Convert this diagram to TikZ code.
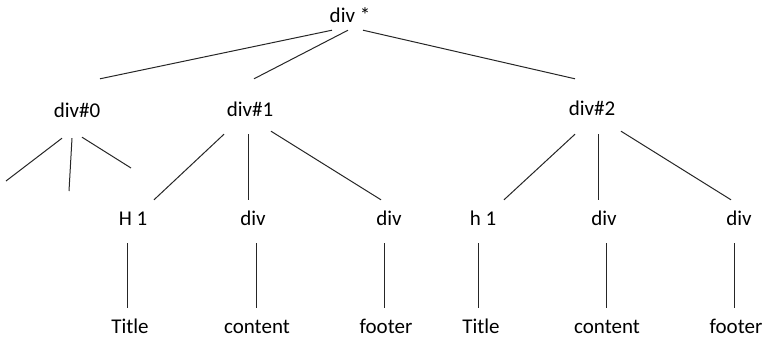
\documentclass[tikz,border=0pt]{standalone}
\usepackage{fontspec}
\setmainfont{Carlito}
\usepackage{tikz}

\begin{document}
\begin{tikzpicture}[
    x=1pt, y=-1pt,
    tag/.style={inner sep=0pt, text height=15pt, text depth=4pt, anchor=base, font=\fontsize{21}{25}\selectfont},
    edge/.style={line width=1pt, black!85}
]
\useasboundingbox (0,0) rectangle (765,340);

\node[tag] (root) at (350,22) {div *};

\node[tag] (div0) at (77,117) {div\#0};
\node[tag] (div1) at (250,116) {div\#1};
\node[tag] (div2) at (592,115) {div\#2};

\node[tag] (h1a) at (133,225) {H 1};
\node[tag] (diva) at (253,225) {div};
\node[tag] (divb) at (389,225) {div};
\node[tag] (h1b) at (483,225) {h 1};
\node[tag] (divc) at (604,225) {div};
\node[tag] (divd) at (739,225) {div};

\node[tag] (titlea) at (130,333) {Title};
\node[tag] (contenta) at (257,333) {content};
\node[tag] (footera) at (386,333) {footer};
\node[tag] (titleb) at (481,333) {Title};
\node[tag] (contentb) at (607,333) {content};
\node[tag] (footerb) at (736,333) {footer};

\coordinate (open1) at (6,181);
\coordinate (open2) at (69,191);
\coordinate (open3) at (131,168);

\draw[edge] ([shift={(-18,4)}]root.south) -- ([shift={(23,-23)}]div0.north);
\draw[edge] ([shift={(-2,4)}]root.south) -- ([shift={(4,-22)}]div1.north);
\draw[edge] ([shift={(13,4)}]root.south) -- ([shift={(-17,-21)}]div2.north);

\draw[edge] ([shift={(-15,17)}]div0.south) -- (open1);
\draw[edge] ([shift={(-5,17)}]div0.south) -- (open2);
\draw[edge] ([shift={(5,16)}]div0.south) -- (open3);

\draw[edge] ([shift={(-26,14)}]div1.south) -- ([shift={(21,-10)}]h1a.north);
\draw[edge] ([shift={(-2,14)}]div1.south) -- ([shift={(-5,-10)}]diva.north);
\draw[edge] ([shift={(21,11)}]div1.south) -- ([shift={(-8,-10)}]divb.north);

\draw[edge] ([shift={(-17,15)}]div2.south) -- ([shift={(21,-10)}]h1b.north);
\draw[edge] ([shift={(6,15)}]div2.south) -- ([shift={(-6,-10)}]divc.north);
\draw[edge] ([shift={(29,12)}]div2.south) -- ([shift={(-8,-10)}]divd.north);

\draw[edge] ([shift={(-6,14)}]h1a.south) -- ([shift={(-3,-10)}]titlea.north);
\draw[edge] ([shift={(3,14)}]diva.south) -- ([shift={(-1,-10)}]contenta.north);
\draw[edge] ([shift={(-5,14)}]divb.south) -- ([shift={(-2,-10)}]footera.north);
\draw[edge] ([shift={(-5,14)}]h1b.south) -- ([shift={(-3,-10)}]titleb.north);
\draw[edge] ([shift={(2,14)}]divc.south) -- ([shift={(-1,-10)}]contentb.north);
\draw[edge] ([shift={(-5,14)}]divd.south) -- ([shift={(-2,-10)}]footerb.north);
\end{tikzpicture}
\end{document}
